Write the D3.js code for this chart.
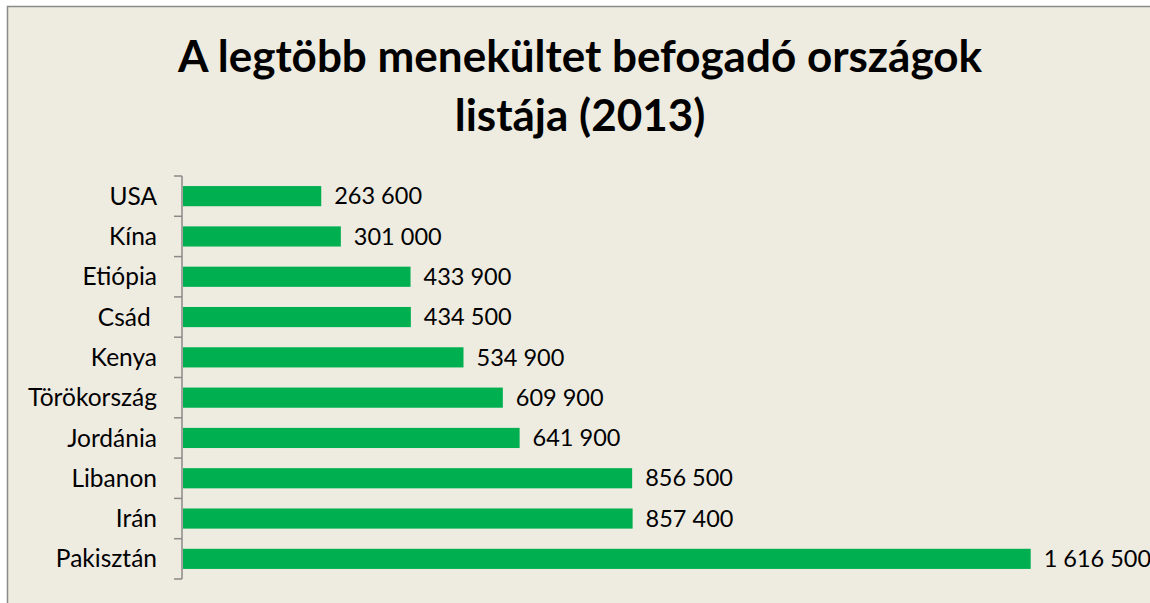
<!DOCTYPE html>
<html>
<head>
<meta charset="utf-8">
<script src="https://cdn.jsdelivr.net/npm/d3@7"></script>
<style>
  body { margin: 0; background: #fff; }
  text { font-family: Lato, "Open Sans", sans-serif; }
</style>
</head>
<body>
<div id="chart"></div>
<script>
// data, top to bottom as in the picture
const countries = ["USA", "Kína", "Etiópia", "Csád ", "Kenya", "Törökország", "Jordánia", "Libanon", "Irán", "Pakisztán"];
const refugees = [263600, 301000, 433900, 434500, 534900, 609900, 641900, 856500, 857400, 1616500];
const titleLines = ["A legtöbb menekültet befogadó országok", "listája (2013)"];

function drawChart(container) {
    const width = 1150;
    const height = 603;
    const data = countries.map((c, i) => ({ name: c, value: refugees[i] }));

    const svg = d3.select(container).append("svg")
        .attr("width", width)
        .attr("height", height);

    // chart area (border runs off the right and bottom edge)
    svg.append("rect")
        .attr("x", 7.5)
        .attr("y", 6.5)
        .attr("width", width + 20)
        .attr("height", height + 20)
        .attr("fill", "#eeebe0")
        .attr("stroke", "#8a8a8a")
        .attr("stroke-width", 1.5);

    svg.append("g")
        .selectAll("text")
        .data(titleLines)
        .join("text")
        .attr("x", 580)
        .attr("y", (d, i) => 72 + i * 59)
        .attr("text-anchor", "middle")
        .attr("font-size", 44)
        .attr("font-weight", "bold")
        .attr("fill", "#000")
        .text(d => d);

    const x = d3.scaleLinear()
        .domain([0, d3.max(refugees)])
        .range([183, 1030.7]);

    const y = d3.scaleBand()
        .domain(countries)
        .range([176, 579])
        .paddingInner(0.5)
        .paddingOuter(0.25);

    const yOuter = d3.scaleBand()
        .domain(countries)
        .range([176, 579]);

    // bars
    svg.append("g")
        .selectAll("rect")
        .data(data)
        .join("rect")
        .attr("x", x(0))
        .attr("y", d => y(d.name))
        .attr("width", d => x(d.value) - x(0))
        .attr("height", y.bandwidth())
        .attr("fill", "#00b050");

    // category axis, ticks between categories
    const axis = svg.append("g")
        .attr("stroke", "#8a8a8a")
        .attr("stroke-width", 1.5);
    axis.append("line")
        .attr("x1", 182).attr("x2", 182)
        .attr("y1", 176).attr("y2", 579);
    const tickYs = countries.map(c => yOuter(c)).concat([579]);
    axis.selectAll("line.tick")
        .data(tickYs)
        .join("line")
        .attr("class", "tick")
        .attr("x1", 174).attr("x2", 182)
        .attr("y1", d => d).attr("y2", d => d);

    svg.append("g")
        .selectAll("text")
        .data(data)
        .join("text")
        .attr("x", 157)
        .attr("y", d => y(d.name) + y.bandwidth() / 2)
        .attr("dy", "0.35em")
        .attr("text-anchor", "end")
        .attr("font-size", 24.5)
        .style("white-space", "pre")
        .text(d => d.name);

    // value labels
    const fmt = v => d3.format(",")(v).replace(/,/g, " ");
    svg.append("g")
        .selectAll("text")
        .data(data)
        .join("text")
        .attr("x", d => x(d.value) + 13)
        .attr("y", d => y(d.name) + y.bandwidth() / 2)
        .attr("dy", "0.35em")
        .attr("font-size", 23.5)
        .text(d => fmt(d.value));
}

drawChart(document.getElementById("chart"));
</script>
</body>
</html>
